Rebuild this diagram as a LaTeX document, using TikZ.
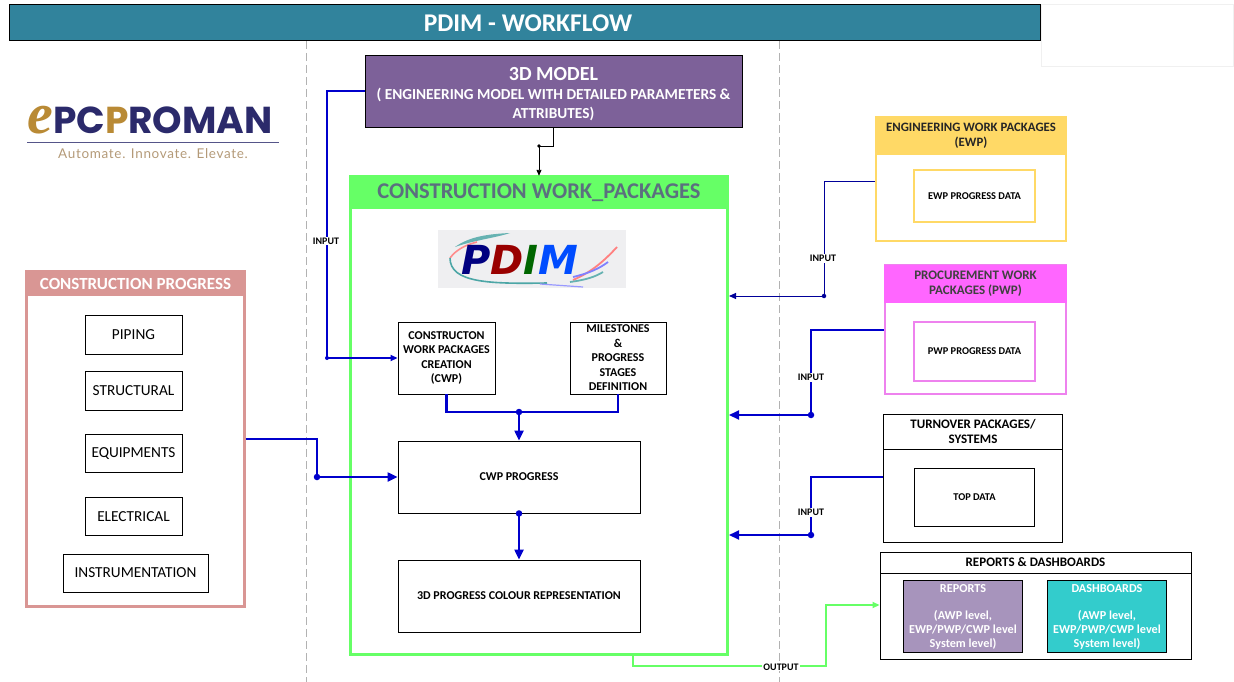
\documentclass[tikz,border=0pt]{standalone}
\usepackage{fontspec}
\setmainfont{Carlito}
\newfontfamily\logofont{Poppins}
\newfontfamily\mottofont[LetterSpace=5]{Lato}
\newfontfamily\swashfont{Liberation Serif}
\newfontfamily\pdimfont{DejaVu Sans}
\usetikzlibrary{calc, arrows.meta}
\definecolor{titleteal}{HTML}{31839C}
\definecolor{modelviolet}{HTML}{7D6199}
\definecolor{cwpgreen}{HTML}{66FF66}
\definecolor{cwptext}{HTML}{5B6F7F}
\definecolor{progrose}{HTML}{D99694}
\definecolor{ewpgold}{HTML}{FFD966}
\definecolor{pwppink}{HTML}{FF66FF}
\definecolor{pwpedge}{HTML}{EE82EE}
\definecolor{repviolet}{HTML}{A794BC}
\definecolor{dashteal}{HTML}{33CCCC}
\definecolor{wireblue}{HTML}{0000CC}
\definecolor{wirenavy}{HTML}{000099}
\definecolor{logonavy}{HTML}{2B2A6B}
\definecolor{logogold}{HTML}{B98A35}
\definecolor{logotan}{HTML}{B49A78}
\tikzset{
	box/.style = {draw = black, line width = 0.9pt, fill = white, align = center, inner sep = 0pt, font = \bfseries\fontsize{12}{14.5}\selectfont},
	listbox/.style = {box, font = \fontsize{15.3}{17}\selectfont},
	wire/.style = {draw = wireblue, line width = 2.2pt, -{Stealth[length = 10pt, width = 9pt, inset = 0pt]}},
	thinwire/.style = {draw = wirenavy, line width = 1pt, -{Stealth[length = 7pt, width = 6pt, inset = 0pt]}},
	plainwire/.style = {draw = wireblue, line width = 2.2pt},
	dot/.style = {circle, fill = wireblue, inner sep = 0pt, minimum size = 6.5pt},
	tag/.style = {fill = white, inner sep = 1pt, font = \bfseries\fontsize{10}{11}\selectfont},
	white text/.style = {text = white, font = \bfseries\fontsize{12.2}{14}\selectfont}
}
\begin{document}
\begin{tikzpicture}[x = 1pt, y = -1pt]
	\useasboundingbox (0,0) rectangle (1234,682);

	\foreach \x in {306.5,779}
	{
		\draw[gray!60, line width = 1pt, dash pattern = on 8pt off 4pt] (\x,41) -- (\x,682);
	}

	\node[draw = black, line width = 1pt, fill = titleteal, text = white, minimum width = 1031pt, minimum height = 36pt, inner sep = 0pt, font = \bfseries\fontsize{25.5}{28}\selectfont] (title) at (524.5,23) {\hspace{7pt}\raisebox{-1pt}{PDIM - WORKFLOW}};
	\node[draw = gray!12, fill = white, minimum width = 192pt, minimum height = 62pt] (blank) at (1137,35) {};

	% logo
	\node[inner sep = 0pt, text = logonavy, font = \logofont\bfseries\fontsize{37.5}{40}\selectfont] (logo) at (150,120) {{\color{logogold}\swashfont\itshape\fontsize{58}{40}\selectfont e}PC{\color{logogold}P}ROMAN};
	\draw[logonavy!80, line width = 0.8pt] (27,142) -- (279,142);
	\node[inner sep = 0pt, text = logotan, font = \mottofont\fontsize{13.5}{15}\selectfont] (motto) at (153,153.5) {Automate. Innovate. Elevate.};

	% model and work packages
	\node[box, fill = modelviolet, text = white, minimum width = 377pt, minimum height = 72pt, font = \bfseries\fontsize{15.3}{19}\selectfont] (model) at (553.5,91) {\rule{0pt}{20pt}{\fontsize{20}{24}\selectfont 3D MODEL}\\( ENGINEERING MODEL WITH DETAILED PARAMETERS \&\\ATTRIBUTES)};

	\node[draw = cwpgreen, line width = 3pt, fill = white, minimum width = 377pt, minimum height = 478pt] (cwp) at (539,415.5) {};
	\node[fill = cwpgreen, text = cwptext, minimum width = 380pt, minimum height = 33pt, inner sep = 0pt, font = \bfseries\fontsize{22.5}{24}\selectfont] (cwphead) at (539,192.5) {\raisebox{-2.5pt}{CONSTRUCTION WORK\_PACKAGES}};

	\begin{scope}
		\fill[blue!6!gray!12] (438,230) rectangle (626,288);
		\fill[teal!60] (455,247) .. controls (470,236) and (490,234) .. (510,233) .. controls (495,238) and (475,240) .. (455,247);
		\draw[red!45, line width = 1.6pt] (450,258) .. controls (456,250) and (465,245) .. (477,242);
		\draw[teal!70, line width = 1.6pt] (450,258) .. controls (450,283) and (490,284) .. (547,283);
		\draw[blue!40, line width = 1.2pt] (540,284) -- (583,287);
		\draw[red!50, line width = 1.8pt] (573,280) .. controls (592,272) and (605,260) .. (617,247);
		\draw[blue!50, line width = 1.8pt] (573,277) .. controls (590,273) and (600,268) .. (608,262);
		\draw[teal!60, line width = 1.8pt] (570,282) .. controls (585,280) and (595,277) .. (603,272);
		\node[inner sep = 0pt, font = \pdimfont\bfseries\itshape\fontsize{40}{42}\selectfont] (pdim) at (520,260) {{\color{blue!50!black}P}{\color{red!60!black}D}{\color{green!40!black}I}{\color{blue!70!cyan}M}};
	\end{scope}

	\node[box, minimum width = 97pt, minimum height = 72pt] (create) at (446.5,358) {CONSTRUCTON\\WORK PACKAGES\\CREATION\\(CWP)};
	\node[box, minimum width = 96pt, minimum height = 72pt] (stages) at (618,358) {MILESTONES\\\&\\PROGRESS\\STAGES\\DEFINITION};
	\node[box, minimum width = 242pt, minimum height = 72pt] (progress) at (519,477) {CWP PROGRESS};
	\node[box, minimum width = 242pt, minimum height = 72pt] (colour) at (519,596) {3D PROGRESS COLOUR REPRESENTATION};

	% construction progress
	\node[draw = progrose, line width = 2.5pt, fill = white, minimum width = 218pt, minimum height = 335pt] (site) at (135.5,439) {};
	\node[fill = progrose, text = white, minimum width = 220pt, minimum height = 25pt, inner sep = 0pt, font = \bfseries\fontsize{17}{18}\selectfont] (sitehead) at (135.5,283.5) {CONSTRUCTION PROGRESS};
	\foreach \nm/\txt/\y in {piping/PIPING/335, steel/STRUCTURAL/391, equip/EQUIPMENTS/453.5, elec/ELECTRICAL/516.5}
	{
		\node[listbox, minimum width = 97pt, minimum height = 38.5pt] (\nm) at (133.5,\y) {\txt};
	}
	\node[listbox, minimum width = 145pt, minimum height = 38pt] (instr) at (135.5,573) {INSTRUMENTATION};

	% ewp
	\node[draw = ewpgold, line width = 2.5pt, fill = white, minimum width = 190pt, minimum height = 124pt] (ewp) at (971,179) {};
	\node[fill = ewpgold, minimum width = 192pt, minimum height = 38pt, inner sep = 0pt, align = center, text = black!85, font = \bfseries\fontsize{12.8}{14.5}\selectfont] (ewphead) at (971,136) {ENGINEERING WORK PACKAGES\\(EWP)};
	\node[box, draw = ewpgold, line width = 2.5pt, minimum width = 121pt, minimum height = 52pt, font = \bfseries\fontsize{10.4}{12}\selectfont] (ewpdata) at (974.5,196) {EWP PROGRESS DATA};

	% pwp
	\node[draw = pwpedge, line width = 2.5pt, fill = white, minimum width = 181pt, minimum height = 129pt] (pwp) at (975.5,329.5) {};
	\node[fill = pwppink, minimum width = 183pt, minimum height = 38pt, inner sep = 0pt, align = center, text = black!75, font = \bfseries\fontsize{13}{14.5}\selectfont] (pwphead) at (975.5,283.5) {\raisebox{-1pt}{PROCUREMENT WORK}\\\raisebox{-1pt}{PACKAGES (PWP)}};
	\node[box, draw = pwpedge, line width = 2.5pt, minimum width = 121pt, minimum height = 59pt, font = \bfseries\fontsize{10.4}{12}\selectfont] (pwpdata) at (974.5,351.5) {PWP PROGRESS DATA};

	% turnover
	\node[box, minimum width = 179pt, minimum height = 128pt] (top) at (973,478) {};
	\node[box, minimum width = 179pt, minimum height = 35pt, font = \bfseries\fontsize{13}{14.5}\selectfont] (tophead) at (973,431.5) {TURNOVER PACKAGES/\\SYSTEMS};
	\node[box, minimum width = 120pt, minimum height = 58pt, font = \bfseries\fontsize{10.4}{12}\selectfont] (topdata) at (974.5,497) {TOP DATA};

	% reports
	\node[box, minimum width = 311pt, minimum height = 107pt] (report) at (1035.5,605.5) {};
	\node[box, minimum width = 311pt, minimum height = 21pt, font = \bfseries\fontsize{13}{14.5}\selectfont] (rephead) at (1035.5,562.5) {REPORTS \& DASHBOARDS};
	\node[box, fill = repviolet, white text, minimum width = 119pt, minimum height = 72pt] (repbox) at (963,616.5) {REPORTS\\[13pt](AWP level,\\EWP/PWP/CWP level\\System level)};
	\node[box, fill = dashteal, white text, minimum width = 119pt, minimum height = 72pt] (dashbox) at (1107,616.5) {DASHBOARDS\\[13pt](AWP level,\\EWP/PWP/CWP level\\System level)};

	% connectors
	\coordinate (modelS) at (553,127);
	\coordinate (modelJ) at (539,146);
	\draw[black, line width = 0.9pt, -{Stealth[length = 6pt, width = 5pt, inset = 0pt]}] (modelS) |- (modelJ) -- (cwphead.north -| modelJ);
	\fill[black] (modelJ) circle (1.8pt);

	\coordinate (inputC) at (327,91);
	\coordinate (inputJ) at (327,358);
	\draw[draw = wireblue, line width = 2pt, -{Stealth[length = 7pt, width = 6pt, inset = 0pt]}] (model.west |- inputC) -- (inputC) -- (inputJ) -- (create.west |- inputJ);
	\node[dot, minimum size = 4pt] (inputD) at (inputJ) {};

	\coordinate (mergeJ) at (519,412);
	\draw[plainwire] (create.south) |- (mergeJ) -| (stages.south);
	\draw[wire] (mergeJ) -- (progress.north -| mergeJ);
	\node[dot] (mergeD) at (mergeJ) {};

	\draw[wire] (progress.south) -- (colour.north);
	\node[dot] (progD) at (progress.south) {};

	\coordinate (siteC) at (317,439);
	\coordinate (siteJ) at (317,477);
	\draw[wire] (site.east |- siteC) -- (siteC) -- (siteJ) -- (progress.west |- siteJ);
	\node[dot] (siteD) at (siteJ) {};

	\coordinate (ewpC) at (824,181);
	\coordinate (ewpJ) at (824,296);
	\draw[thinwire] (ewp.west |- ewpC) -- (ewpC) -- (ewpJ) -- (cwp.east |- ewpJ);
	\node[dot, fill = wirenavy, minimum size = 4.5pt] (ewpD) at (ewpJ) {};

	\coordinate (pwpC) at (811,330);
	\coordinate (pwpJ) at (811,415);
	\draw[wire] (pwp.west |- pwpC) -- (pwpC) -- (pwpJ) -- (cwp.east |- pwpJ);
	\node[dot] (pwpD) at (pwpJ) {};

	\coordinate (topC) at (811,477);
	\coordinate (topJ) at (811,535);
	\draw[wire] (top.west |- topC) -- (topC) -- (topJ) -- (cwp.east |- topJ);
	\node[dot] (topD) at (topJ) {};

	\coordinate (outA) at (633,655);
	\coordinate (outB) at (633,666);
	\coordinate (outC) at (826,666);
	\coordinate (outD) at (826,605);
	\draw[cwpgreen, line width = 2.5pt, -{Stealth[length = 7pt, width = 6pt, inset = 0pt]}] (outA) -- (outB) -- (outC) -- (outD) -- (report.west |- outD);

	\node[tag] (tagA) at (326,241) {INPUT};
	\node[tag] (tagB) at (823,258.5) {INPUT};
	\node[tag] (tagC) at (811,377.5) {INPUT};
	\node[tag] (tagD) at (811,512.5) {INPUT};
	\node[tag] (tagE) at (781,667) {OUTPUT};
\end{tikzpicture}
\end{document}
